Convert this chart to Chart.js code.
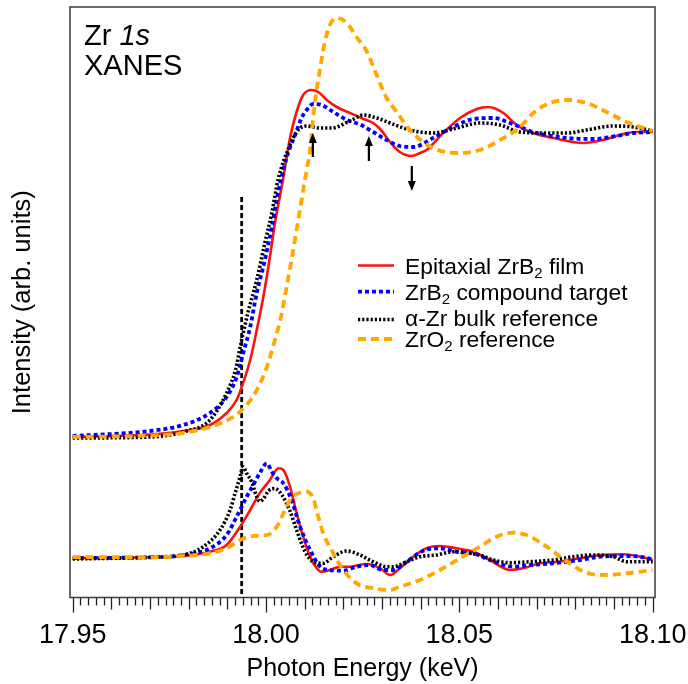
<!DOCTYPE html>
<html><head><meta charset="utf-8">
<script src="https://cdn.jsdelivr.net/npm/chart.js@4/dist/chart.umd.min.js"></script>
<style>html,body{margin:0;padding:0;background:#fff}canvas{display:block}</style>
</head><body>
<canvas id="c" width="688" height="684"></canvas>
<script>
// ---------- data (energy in keV, intensity in arb. units) ----------
const majorTicks = [17.95, 18.00, 18.05, 18.10];

const redTopE = [17.950,17.970,17.9786,17.9855,17.9898,17.9924,17.9937,17.9959,17.9976,17.9993,18.0010,18.0023,18.0036,18.0045,18.0062,18.0079,18.0096,18.0118,18.0135,18.0157,18.0183,18.0217,18.0252,18.0277,18.0295,18.0321,18.0346,18.0377,18.0398,18.0415,18.0458,18.0502,18.0545,18.0574,18.0614,18.0648,18.0691,18.0743,18.0821,18.0872,18.0915,18.0959,18.1000];
const redTopI = [0.0,0.25,0.6,1.2,2.4,3.7,5.0,7.7,10.7,14.0,18.0,21.4,24.1,26.0,29.9,32.5,34.2,34.7,34.5,33.7,33.0,32.4,31.8,31.4,30.8,29.5,28.5,28.1,28.4,28.7,30.4,31.9,32.8,33.0,32.4,31.2,30.4,29.9,29.4,29.7,30.2,30.5,30.5];

const blueTopE = [17.950,17.970,17.9786,17.9855,17.9898,17.9924,17.9941,17.9959,17.9976,17.9997,18.0015,18.0028,18.0053,18.0075,18.0092,18.0105,18.0122,18.0144,18.0174,18.0209,18.0243,18.0277,18.0312,18.0346,18.0381,18.0432,18.0484,18.0536,18.0588,18.0631,18.0691,18.0778,18.0846,18.0907,18.0950,18.1000];
const blueTopI = [0.1,0.6,1.2,2.4,4.0,6.0,8.4,11.0,14.4,17.7,21.0,23.8,27.9,30.2,31.9,32.7,33.3,33.2,32.5,31.7,31.25,30.5,29.7,29.1,29.0,29.9,31.0,31.8,31.9,31.4,30.5,29.9,29.8,30.1,30.4,30.5];

const blackTopE = [17.950,17.970,17.9786,17.9855,17.9898,17.9921,17.9937,17.9953,17.9976,17.9997,18.0015,18.0031,18.0062,18.0083,18.0105,18.0122,18.0140,18.0170,18.0217,18.0252,18.0286,18.0321,18.0372,18.0432,18.0493,18.0553,18.0605,18.0657,18.0717,18.0778,18.0829,18.0898,18.0950,18.1000];
const blackTopI = [-0.1,0.0,0.5,1.7,4.4,6.7,9.7,12.4,15.7,19.4,22.4,25.7,29.2,30.7,31.1,31.0,30.9,30.9,31.6,32.2,31.9,31.4,30.7,30.4,30.9,31.4,31.2,30.5,30.4,30.4,30.7,31.1,31.0,30.6];

const orangeTopE = [17.950,17.970,17.9786,17.9855,17.9915,17.9950,17.9976,18.0002,18.0023,18.0041,18.0053,18.0066,18.0079,18.0092,18.0105,18.0114,18.0124,18.0140,18.0152,18.0165,18.0183,18.0209,18.0234,18.0260,18.0286,18.0312,18.0338,18.0372,18.0432,18.0493,18.0553,18.0605,18.0657,18.0691,18.0734,18.0778,18.0829,18.0881,18.0933,18.1000];
const orangeTopI = [0.0,0.15,0.4,1.0,2.0,3.2,4.7,7.0,9.7,12.4,15.0,17.7,20.7,23.7,26.7,28.7,32.7,36.9,39.5,41.2,41.9,41.4,40.0,38.6,36.2,33.9,32.5,30.7,28.9,28.4,28.7,29.7,31.0,32.4,33.4,33.7,33.4,32.5,31.5,30.6];

const redDerE = [17.950,17.970,17.9786,17.9855,17.9898,17.9933,17.9959,17.9984,18.0010,18.0032,18.0045,18.0062,18.0079,18.0096,18.0114,18.0131,18.0144,18.0165,18.0191,18.0217,18.0260,18.0295,18.0321,18.0346,18.0381,18.0415,18.0450,18.0493,18.0536,18.0579,18.0631,18.0665,18.0708,18.0760,18.0812,18.0864,18.0924,18.0967,18.1000];
const redDerI = [-12.1,-12.03,-11.9,-11.47,-10.8,-8.97,-7.3,-5.6,-4.3,-3.13,-3.3,-4.97,-7.6,-9.97,-11.97,-13.13,-13.47,-13.3,-12.97,-12.97,-12.7,-13.13,-13.8,-13.13,-11.97,-11.13,-10.9,-11.13,-11.47,-12.3,-13.3,-13.13,-12.63,-12.47,-12.13,-11.8,-11.73,-11.97,-12.3];

const blueDerE = [17.950,17.970,17.9786,17.9855,17.9898,17.9924,17.9950,17.9967,17.9984,18.0002,18.0015,18.0028,18.0045,18.0066,18.0088,18.0114,18.0140,18.0165,18.0200,18.0234,18.0269,18.0303,18.0329,18.0364,18.0407,18.0450,18.0493,18.0536,18.0579,18.0639,18.0683,18.0743,18.0812,18.0864,18.0915,18.0967,18.1000];
const blueDerI = [-12.1,-12.03,-11.8,-11.13,-9.8,-7.97,-5.97,-4.8,-3.6,-2.63,-3.47,-4.13,-4.63,-6.3,-8.97,-11.3,-12.97,-13.3,-13.37,-12.97,-12.8,-13.3,-13.3,-12.47,-11.37,-11.13,-11.47,-11.63,-12.3,-12.97,-12.8,-12.63,-12.3,-11.97,-11.9,-11.97,-12.23];

const blackDerE = [17.950,17.970,17.9786,17.9838,17.9881,17.9907,17.9920,17.9933,17.9940,17.9950,17.9963,17.9976,17.9984,17.9993,18.0006,18.0023,18.0041,18.0062,18.0079,18.0101,18.0122,18.0148,18.0174,18.0209,18.0243,18.0277,18.0312,18.0329,18.0364,18.0398,18.0441,18.0484,18.0527,18.0553,18.0588,18.0631,18.0683,18.0743,18.0795,18.0846,18.0898,18.0933,18.1000];
const blackDerI = [-12.2,-12.03,-11.8,-10.97,-9.3,-7.3,-5.63,-3.97,-2.97,-3.63,-4.5,-5.97,-6.45,-6.2,-5.4,-5.15,-5.8,-7.4,-9.3,-11.47,-12.47,-12.63,-11.97,-11.4,-11.8,-12.47,-12.97,-12.97,-12.47,-11.97,-11.8,-11.47,-11.63,-11.8,-12.3,-12.57,-12.47,-12.3,-11.97,-11.8,-11.97,-12.47,-12.47];

const orangeDerE = [17.950,17.970,17.9786,17.9855,17.9898,17.9933,17.9967,18.0002,18.0028,18.0045,18.0062,18.0079,18.0105,18.0122,18.0135,18.0148,18.0174,18.0200,18.0234,18.0277,18.0321,18.0346,18.0398,18.0450,18.0502,18.0553,18.0596,18.0639,18.0674,18.0726,18.0778,18.0829,18.0881,18.0933,18.1000];
const orangeDerI = [-12.0,-12.03,-11.9,-11.63,-11.13,-10.3,-9.9,-9.8,-8.97,-7.63,-6.3,-5.7,-5.47,-6.13,-7.97,-9.63,-11.63,-13.3,-14.63,-15.13,-15.3,-14.97,-14.3,-13.3,-12.13,-10.97,-9.97,-9.57,-9.8,-10.97,-12.47,-13.57,-13.8,-13.63,-13.3];

const refLineE = [17.9937, 17.9937];
const refLineI = [24.0, -16.05];

const arrowE    = [18.0121, 18.0266, 18.0377];
const arrowFrom = [28.0, 27.6, 27.1];
const arrowTo   = [30.4, 30.1, 24.6];

// ---------- styling ----------
const FONT = '"Liberation Sans", Arial, Helvetica, sans-serif';
const ST = {
  red:    {color:'#ff1010', width:2.6, dash:[]},
  blue:   {color:'#0000ff', width:3.8, dash:[4,3]},
  black:  {color:'#000000', width:3.6, dash:[2.2,2]},
  orange: {color:'#ffa800', width:3.8, dash:[8,5]}
};
function pts(E, I){ return E.map((e,i)=>({x:e, y:I[i]})); }
function ds(label, E, I, st, order){
  return {label, data:pts(E,I), borderColor:st.color, borderWidth:st.width, borderDash:st.dash,
    pointRadius:0, fill:false, cubicInterpolationMode:'monotone', order, borderCapStyle:'butt'};
}

const frameTicks = {
  id:'frameTicks',
  afterDraw(chart){
    const {ctx, chartArea:a, scales:{x}} = chart;
    ctx.save();
    ctx.strokeStyle = '#222'; ctx.lineWidth = 1.3; ctx.setLineDash([]);
    for(let i=0;i<=75;i++){
      const v = majorTicks[0] + i*0.002;
      const px = Math.round(x.getPixelForValue(v))+0.5;
      const len = i%25===0 ? 15 : (i%5===0 ? 12 : 8);
      ctx.beginPath(); ctx.moveTo(px, a.bottom); ctx.lineTo(px, a.bottom+len); ctx.stroke();
    }
    ctx.strokeStyle = '#3a3a3a'; ctx.lineWidth = 1.5;
    ctx.strokeRect(a.left, a.top, a.right-a.left, a.bottom-a.top);
    ctx.restore();
  }
};

const arrows = {
  id:'arrows',
  afterDatasetsDraw(chart){
    const {ctx, scales:{x,y}} = chart;
    ctx.save(); ctx.strokeStyle='#000'; ctx.fillStyle='#000'; ctx.lineWidth=2.2; ctx.setLineDash([]);
    arrowE.forEach((e,i)=>{
      const px = x.getPixelForValue(e);
      const y0 = y.getPixelForValue(arrowFrom[i]);
      const y1 = y.getPixelForValue(arrowTo[i]);
      const dir = y1 < y0 ? -1 : 1;
      const head = 10;
      ctx.beginPath(); ctx.moveTo(px,y0); ctx.lineTo(px, y1 - dir*head); ctx.stroke();
      ctx.beginPath(); ctx.moveTo(px, y1); ctx.lineTo(px-4, y1-dir*head); ctx.lineTo(px+4, y1-dir*head); ctx.closePath(); ctx.fill();
    });
    ctx.restore();
  }
};

const legendEntries = [
  {st:'red',    y:265.5, ly:265.5, parts:[['Epitaxial ZrB',0],['2',1],[' film',0]]},
  {st:'blue',   y:291.7, ly:291.7, parts:[['ZrB',0],['2',1],[' compound target',0]]},
  {st:'black',  y:317.3, ly:319.5, parts:[['\u03b1-Zr bulk reference',0]]},
  {st:'orange', y:339.0, ly:339.0, parts:[['ZrO',0],['2',1],[' reference',0]]}
];

const annot = {
  id:'annot',
  afterDraw(chart){
    const {ctx} = chart;
    ctx.save();
    ctx.fillStyle = '#000';
    ctx.textBaseline = 'alphabetic';
    ctx.font = '29px ' + FONT;
    ctx.fillText('Zr ', 84, 45);
    const w = ctx.measureText('Zr ').width;
    ctx.font = 'italic 29px ' + FONT;
    ctx.fillText('1s', 84 + w, 45);
    ctx.font = '29px ' + FONT;
    ctx.fillText('XANES', 84, 75);
    const fs = 22.8;
    legendEntries.forEach(en=>{
      const st = ST[en.st];
      ctx.strokeStyle = st.color; ctx.lineWidth = st.width; ctx.setLineDash(st.dash); ctx.lineCap='butt';
      ctx.beginPath(); ctx.moveTo(358, en.ly); ctx.lineTo(394, en.ly); ctx.stroke();
      ctx.setLineDash([]);
      let xx = 405;
      const base = en.y + fs*0.36;
      en.parts.forEach(([t,sub])=>{
        ctx.font = (sub ? 15 : fs) + 'px ' + FONT;
        ctx.fillText(t, xx, sub ? base + 4 : base);
        xx += ctx.measureText(t).width;
      });
    });
    ctx.restore();
  }
};

new Chart(document.getElementById('c'), {
  type:'line',
  data:{ datasets:[
    ds('ZrO2 reference', orangeTopE, orangeTopI, ST.orange, 0),
    ds('alpha-Zr bulk reference', blackTopE, blackTopI, ST.black, 1),
    ds('ZrB2 compound target', blueTopE, blueTopI, ST.blue, 2),
    ds('Epitaxial ZrB2 film', redTopE, redTopI, ST.red, 3),
    ds('ZrO2 derivative', orangeDerE, orangeDerI, ST.orange, 4),
    ds('alpha-Zr derivative', blackDerE, blackDerI, ST.black, 5),
    ds('ZrB2 target derivative', blueDerE, blueDerI, ST.blue, 6),
    ds('ZrB2 film derivative', redDerE, redDerI, ST.red, 7),
    {label:'edge', data:pts(refLineE, refLineI), borderColor:'#000', borderWidth:2.8, borderDash:[5,3], pointRadius:0, tension:0, order:8}
  ]},
  options:{
    responsive:false, animation:false, devicePixelRatio:1,
    layout:{padding:{left:0, right:33, top:7, bottom:0}},
    plugins:{legend:{display:false}, tooltip:{enabled:false}},
    scales:{
      x:{ type:'linear', min:17.9493, max:18.1006,
        grid:{display:false, drawTicks:false}, border:{display:false},
        afterBuildTicks: s => { s.ticks = majorTicks.map(v=>({value:v})); },
        afterFit: s => { s.height = 86.5; s.paddingLeft = 0; s.paddingRight = 0; },
        ticks:{ autoSkip:false, maxRotation:0, padding:22, color:'#000',
          font:{family:FONT, size:27}, callback: v => Number(v).toFixed(2) },
        title:{display:true, text:'Photon Energy (keV)', color:'#000', font:{family:FONT, size:25}, padding:{top:0, bottom:0}}
      },
      y:{ type:'linear', min:-16.05, max:43.0,
        grid:{display:false, drawTicks:false}, border:{display:false},
        ticks:{display:false},
        afterFit: s => { s.width = 70; s.paddingTop = 0; s.paddingBottom = 0; },
        title:{display:true, text:'Intensity (arb. units)', color:'#000', font:{family:FONT, size:25.5}, padding:{top:8, bottom:0}}
      }
    }
  },
  plugins:[frameTicks, arrows, annot]
});
</script>
</body></html>
